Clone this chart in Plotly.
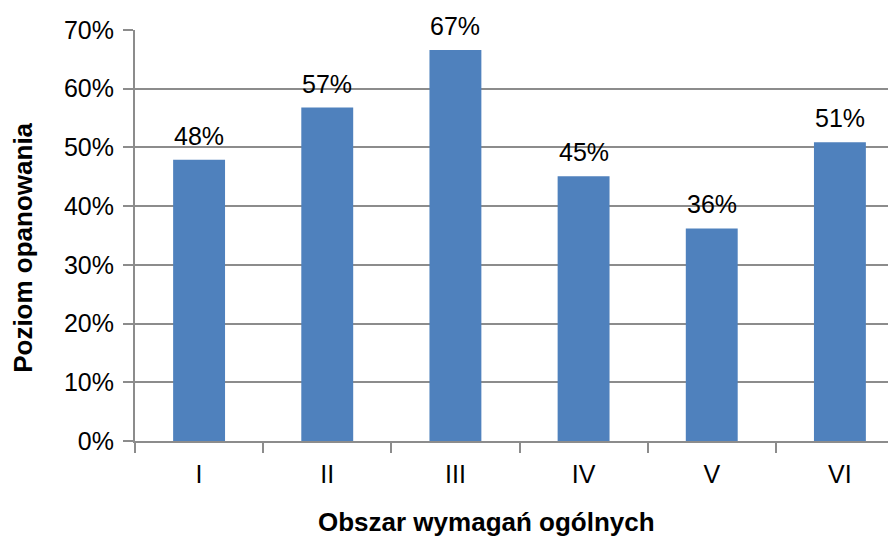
import plotly.graph_objects as go

categories = ["I", "II", "III", "IV", "V", "VI"]
values = [0.479, 0.568, 0.666, 0.451, 0.362, 0.509]
y_ticks = [0, 0.1, 0.2, 0.3, 0.4, 0.5, 0.6, 0.7]
y_tick_labels = ["0%", "10%", "20%", "30%", "40%", "50%", "60%", "70%"]
x_title = "Obszar wymagań ogólnych"
y_title = "Poziom opanowania"

FONT = "Liberation Sans, Arial, sans-serif"
GRID = "#8c8c8c"

fig = go.Figure(go.Bar(
    x=categories, y=values,
    marker=dict(color="#4F81BD", line=dict(width=0)),
    width=0.405,
    hoverinfo="skip",
))

# value labels above bars
for c, v in zip(categories, values):
    fig.add_annotation(
        x=c, y=v, xref="x", yref="y",
        text=f"{round(v*100)}%", showarrow=False,
        yanchor="bottom", yshift=8,
        font=dict(size=25, color="black", family=FONT),
    )

# axis titles
fig.add_annotation(
    x=0.457, y=0, xref="paper", yref="paper",
    text=f"<b>{x_title}</b>", showarrow=False,
    xanchor="center", yanchor="middle", yshift=-81,
    font=dict(size=26, color="black", family=FONT),
)
fig.add_annotation(
    x=0, y=0.47, xref="paper", yref="paper",
    text=f"<b>{y_title}</b>", showarrow=False, textangle=-90,
    xanchor="center", yanchor="middle", xshift=-112,
    font=dict(size=26, color="black", family=FONT),
)

fig.update_layout(
    width=896, height=538,
    margin=dict(l=127, r=0, t=22, b=105, autoexpand=False),
    plot_bgcolor="white", paper_bgcolor="white",
    showlegend=False,
    font=dict(family=FONT, color="black"),
    xaxis=dict(
        range=[-0.5, 5.5],
        showgrid=False,
        showline=True, linecolor=GRID, linewidth=2,
        ticks="outside", tickson="boundaries", ticklen=10, tickcolor=GRID, tickwidth=2,
        tickfont=dict(size=25), ticklabelstandoff=10,
    ),
    yaxis=dict(
        range=[0, 0.7],
        tickvals=y_ticks, ticktext=y_tick_labels,
        showgrid=True, gridcolor=GRID, gridwidth=2,
        showline=True, linecolor=GRID, linewidth=2,
        ticks="outside", ticklen=10, tickcolor=GRID, tickwidth=2,
        tickfont=dict(size=25), ticklabelstandoff=4,
        zeroline=False,
    ),
)

fig.write_html("out.html")
